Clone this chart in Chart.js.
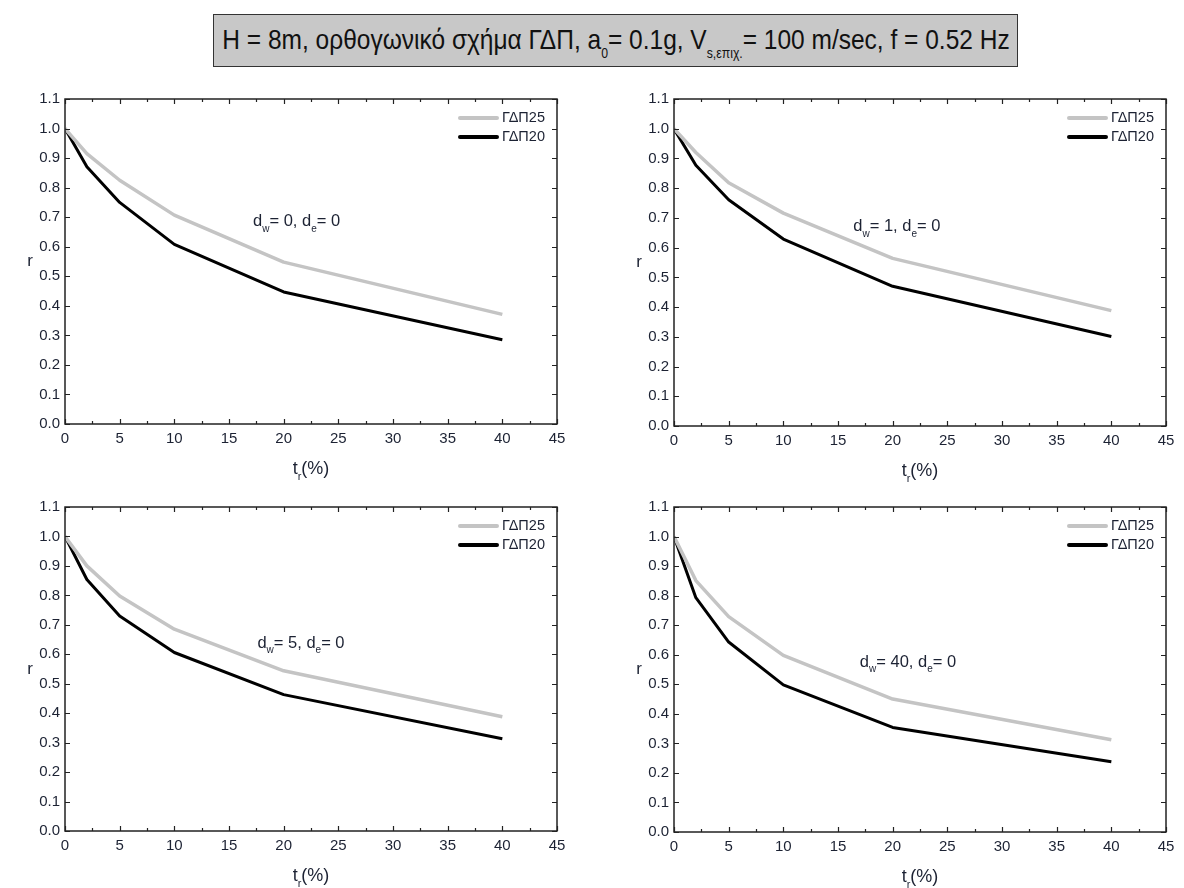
<!DOCTYPE html>
<html>
<head>
<meta charset="utf-8">
<script src="https://cdn.jsdelivr.net/npm/chart.js@4.4.0/dist/chart.umd.min.js"></script>
<style>
  html, body { margin: 0; padding: 0; background: #fff; width: 1184px; height: 888px; overflow: hidden; }
  #title {
    position: absolute; left: 213px; top: 14px; width: 803px; height: 51px; line-height: 49px;
    background: #c8c8c8; border: 1px solid #333;
    font-family: "Liberation Sans", Arial, sans-serif; font-size: 28px; color: #111;
    white-space: nowrap; overflow: hidden;
  }
  #title .inner { position: absolute; left: 50%; top: 0; transform: translateX(-50%) scaleX(0.875); }
  #title .sub { font-size: 14px; position: relative; top: 9px; }
  canvas { position: absolute; }
</style>
</head>
<body>
<div id="title"><span class="inner">H = 8m, ορθογωνικό σχήμα ΓΔΠ, a<span class="sub">0</span>= 0.1g, V<span class="sub">s,επιχ.</span>= 100 m/sec, f = 0.52 Hz</span></div>
<canvas id="c1"></canvas>
<canvas id="c2"></canvas>
<canvas id="c3"></canvas>
<canvas id="c4"></canvas>
<script>
// t_r (%) sample points
const tr = [0, 2, 5, 10, 20, 40];

// r for each d_w case
const gdp25_dw0 = [1.0, 0.915, 0.825, 0.707, 0.548, 0.371];
const gdp20_dw0 = [1.0, 0.871, 0.750, 0.608, 0.447, 0.285];
const gdp25_dw1 = [1.0, 0.920, 0.818, 0.716, 0.564, 0.388];
const gdp20_dw1 = [1.0, 0.877, 0.761, 0.629, 0.470, 0.301];
const gdp25_dw5 = [1.0, 0.900, 0.798, 0.685, 0.544, 0.388];
const gdp20_dw5 = [1.0, 0.854, 0.730, 0.606, 0.463, 0.313];
const gdp25_dw40 = [1.0, 0.851, 0.729, 0.598, 0.450, 0.312];
const gdp20_dw40 = [1.0, 0.793, 0.643, 0.498, 0.354, 0.238];

const seriesNames = ['ΓΔΠ25', 'ΓΔΠ20'];
const dwValues = [0, 1, 5, 40];
const xTickValues = [0, 5, 10, 15, 20, 25, 30, 35, 40, 45];
const yTickValues = [0.0, 0.1, 0.2, 0.3, 0.4, 0.5, 0.6, 0.7, 0.8, 0.9, 1.0, 1.1];

const FONT = '"Liberation Sans", Arial, sans-serif';
const TEXT = '#1c2233';

// canvas box + wanted plot area (page pixels) for each panel
const panels = [
  { id: 'c1', box: [0, 80, 590, 410],   area: [65, 99, 557, 424],   s25: gdp25_dw0,  s20: gdp20_dw0,  dw: dwValues[0], note: [17.2, 0.684] },
  { id: 'c2', box: [600, 80, 584, 410], area: [674, 99, 1166, 426], s25: gdp25_dw1,  s20: gdp20_dw1,  dw: dwValues[1], note: [16.4, 0.67] },
  { id: 'c3', box: [0, 490, 590, 398],  area: [65, 507, 557, 831],  s25: gdp25_dw5,  s20: gdp20_dw5,  dw: dwValues[2], note: [17.6, 0.638] },
  { id: 'c4', box: [600, 490, 584, 398], area: [674, 507, 1166, 832], s25: gdp25_dw40, s20: gdp20_dw40, dw: dwValues[3], note: [17.0, 0.575] }
];

// draws text pieces; pieces marked sub are drawn smaller and lower
function drawRich(ctx, parts, x, y, size) {
  let cx = x;
  parts.forEach(p => {
    const fs = p.sub ? Math.round(size * 0.6) : size;
    ctx.font = fs + 'px ' + FONT;
    ctx.fillText(p.t, cx, p.sub ? y + size * 0.42 : y);
    cx += ctx.measureText(p.t).width;
  });
  return cx - x;
}

function richWidth(ctx, parts, size) {
  let w = 0;
  parts.forEach(p => {
    ctx.font = (p.sub ? Math.round(size * 0.6) : size) + 'px ' + FONT;
    w += ctx.measureText(p.t).width;
  });
  return w;
}

const framePlugin = {
  id: 'frame',
  afterDraw(chart, args, opts) {
    const ctx = chart.ctx;
    const { left, right, top, bottom } = chart.chartArea;
    const xs = chart.scales.x, ys = chart.scales.y;
    ctx.save();
    ctx.strokeStyle = '#222';
    ctx.lineWidth = 1.5;
    ctx.strokeRect(left, top, right - left, bottom - top);

    // inward ticks on all four sides
    ctx.lineWidth = 1.2;
    ctx.beginPath();
    for (let v = 0; v <= 45; v += 2.5) {
      const px = Math.round(xs.getPixelForValue(v)) + 0.5;
      const len = v % 5 === 0 ? 5 : 3;
      ctx.moveTo(px, bottom); ctx.lineTo(px, bottom - len);
      ctx.moveTo(px, top); ctx.lineTo(px, top + len);
    }
    yTickValues.forEach(v => {
      const py = Math.round(ys.getPixelForValue(v)) + 0.5;
      ctx.moveTo(left, py); ctx.lineTo(left + 5, py);
      ctx.moveTo(right, py); ctx.lineTo(right - 5, py);
    });
    ctx.stroke();

    // legend in the top right corner
    ctx.textBaseline = 'middle';
    ctx.textAlign = 'left';
    chart.data.datasets.forEach((ds, i) => {
      const y = top + 19 + i * 19;
      ctx.strokeStyle = ds.borderColor;
      ctx.lineWidth = 4;
      ctx.lineCap = 'round';
      ctx.beginPath();
      ctx.moveTo(right - 97, y); ctx.lineTo(right - 60, y);
      ctx.stroke();
      ctx.fillStyle = TEXT;
      ctx.font = '14.5px ' + FONT;
      ctx.fillText(ds.label, right - 55, y);
    });

    // d_w / d_e note
    ctx.fillStyle = TEXT;
    drawRich(ctx, [{ t: 'd' }, { t: 'w', sub: true }, { t: '= ' + opts.dw + ', d' }, { t: 'e', sub: true }, { t: '= 0' }],
      xs.getPixelForValue(opts.note[0]), ys.getPixelForValue(opts.note[1]), 16.5);

    // axis titles
    ctx.textAlign = 'center';
    ctx.font = '17px ' + FONT;
    ctx.fillText('r', left - 35, (top + bottom) / 2);
    ctx.textAlign = 'left';
    const tParts = [{ t: 't' }, { t: 'r', sub: true }, { t: '(%)' }];
    const w = richWidth(ctx, tParts, 18);
    drawRich(ctx, tParts, (left + right) / 2 - w / 2, bottom + 45, 18);
    ctx.restore();
  }
};

function makePanel(p) {
  const [cx, cy, cw, ch] = p.box;
  const [l, t, r, b] = p.area;
  const canvas = document.getElementById(p.id);
  canvas.width = cw; canvas.height = ch;
  canvas.style.left = cx + 'px'; canvas.style.top = cy + 'px';
  canvas.style.width = cw + 'px'; canvas.style.height = ch + 'px';

  new Chart(canvas.getContext('2d'), {
    type: 'line',
    data: {
      datasets: [
        { label: seriesNames[0], data: tr.map((x, i) => ({ x: x, y: p.s25[i] })), borderColor: '#c4c4c4', borderWidth: 3.5 },
        { label: seriesNames[1], data: tr.map((x, i) => ({ x: x, y: p.s20[i] })), borderColor: '#000000', borderWidth: 3 }
      ]
    },
    options: {
      responsive: false,
      animation: false,
      devicePixelRatio: 1,
      elements: { point: { radius: 0 }, line: { tension: 0, borderJoinStyle: 'round' } },
      layout: { padding: { top: t - cy, right: cx + cw - r, left: 0, bottom: 0 } },
      plugins: { legend: { display: false }, tooltip: { enabled: false }, frame: { dw: p.dw, note: p.note } },
      scales: {
        x: {
          type: 'linear', min: 0, max: 45,
          afterBuildTicks: s => { s.ticks = xTickValues.map(v => ({ value: v })); },
          afterFit: s => { s.height = cy + ch - b; },
          grid: { display: false, drawTicks: false },
          border: { display: false },
          ticks: { padding: 6, color: TEXT, font: { family: FONT, size: 15 }, maxRotation: 0 }
        },
        y: {
          type: 'linear', min: 0, max: 1.1,
          afterBuildTicks: s => { s.ticks = yTickValues.map(v => ({ value: v })); },
          afterFit: s => { s.width = l - cx; },
          grid: { display: false, drawTicks: false },
          border: { display: false },
          ticks: { padding: 5, color: TEXT, font: { family: FONT, size: 15 }, callback: v => v.toFixed(1) }
        }
      }
    },
    plugins: [framePlugin]
  });
}

document.addEventListener('DOMContentLoaded', function() {
  panels.forEach(makePanel);
});
</script>
</body>
</html>
